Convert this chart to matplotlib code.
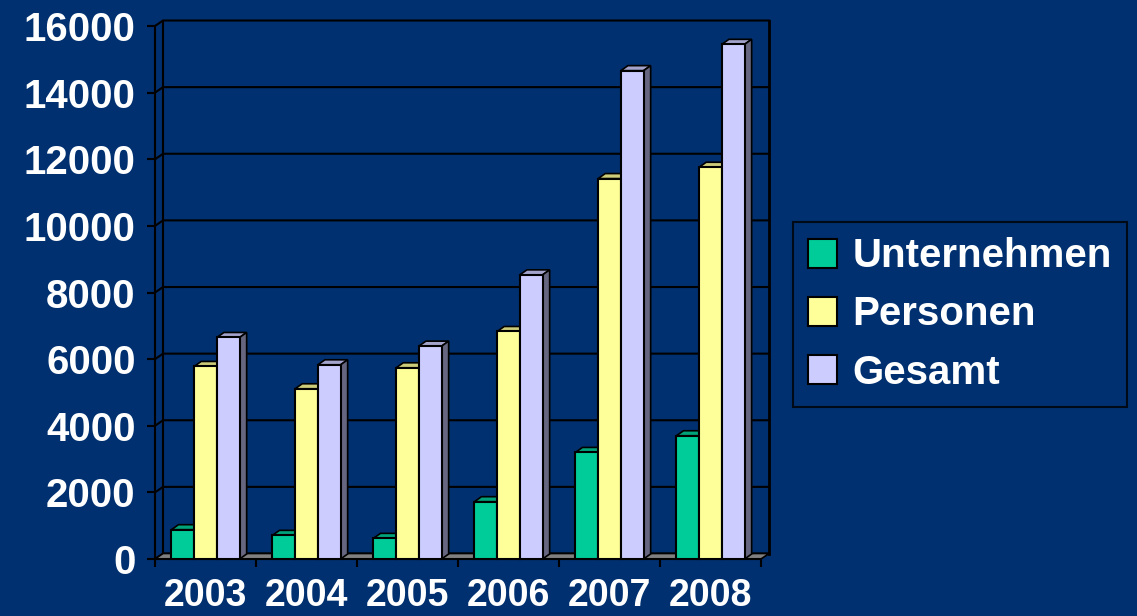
import matplotlib.pyplot as plt
from matplotlib.patches import Polygon
import numpy as np

years = ['2003', '2004', '2005', '2006', '2007', '2008']
unternehmen = [880, 710, 620, 1720, 3200, 3700]
personen = [5780, 5110, 5740, 6830, 11420, 11760]
gesamt = [6650, 5830, 6390, 8530, 14660, 15450]
series_names = ['Unternehmen', 'Personen', 'Gesamt']
y_ticks = [0, 2000, 4000, 6000, 8000, 10000, 12000, 14000, 16000]

BG = '#00306f'
front_cols = ['#00cc99', '#ffff99', '#ccccff']
top_cols = ['#00a37a', '#cccc7a', '#a3a3cc']
side_cols = ['#007a5c', '#99995c', '#666680']

plt.rcParams['font.family'] = ['Liberation Sans', 'DejaVu Sans']
plt.rcParams['font.weight'] = 'bold'

fig = plt.figure(figsize=(11.37, 6.16), dpi=100, facecolor=BG)
ax = fig.add_axes([155 / 1137, 57 / 616, 606 / 1137, 533 / 616])
ax.set_facecolor('none')
ax.set_xlim(-0.5, len(years) - 0.5)
ax.set_ylim(0, 16000)

# depth offsets for fake 3d look
dx_bar, dy_bar = 0.07, 150
dx_wall, dy_wall = 0.08, 165

# back wall + gridlines
x0, x1 = -0.5, len(years) - 0.5
for v in y_ticks:
    ax.plot([x0, x0 + dx_wall, x1 + dx_wall], [v, v + dy_wall, v + dy_wall],
            color='black', lw=1.5, zorder=0.5, clip_on=False)
ax.plot([x0 + dx_wall] * 2, [dy_wall, 16000 + dy_wall], color='black', lw=1.5,
        zorder=0.5, clip_on=False)
ax.plot([x1 + dx_wall] * 2, [dy_wall, 16000 + dy_wall], color='black', lw=2,
        zorder=0.5, clip_on=False)

# floor
ax.add_patch(Polygon([(x0, 0), (x1, 0), (x1 + dx_wall, dy_wall), (x0 + dx_wall, dy_wall)],
                     closed=True, facecolor='#808080', edgecolor='black', lw=1.2,
                     zorder=1, clip_on=False))

x = np.arange(len(years))
width = 0.225
data = [unternehmen, personen, gesamt]
for i, vals in enumerate(data):
    pos = x + (i - 1) * width
    ax.bar(pos, vals, width, color=front_cols[i], edgecolor='black', lw=1.5,
           zorder=3, label=series_names[i], clip_on=False)
    for p, h in zip(pos, vals):
        l, r = p - width / 2, p + width / 2
        ax.add_patch(Polygon([(l, h), (r, h), (r + dx_bar, h + dy_bar), (l + dx_bar, h + dy_bar)],
                             closed=True, facecolor=top_cols[i], edgecolor='black',
                             lw=1.2, zorder=2, clip_on=False))
        ax.add_patch(Polygon([(r, 0), (r, h), (r + dx_bar, h + dy_bar), (r + dx_bar, dy_bar)],
                             closed=True, facecolor=side_cols[i], edgecolor='black',
                             lw=1.2, zorder=2, clip_on=False))

for s in ['top', 'right']:
    ax.spines[s].set_visible(False)
for s in ['left', 'bottom']:
    ax.spines[s].set_color('black')
    ax.spines[s].set_linewidth(1.5)
    ax.spines[s].set_zorder(1.5)

ax.set_yticks(y_ticks)
ax.set_yticklabels([str(v) for v in y_ticks])
ax.tick_params(axis='y', colors='black', labelcolor='white', labelsize=29,
               length=6, width=1.5, pad=8)

ax.set_xticks(np.arange(len(years) + 1) - 0.5)
ax.set_xticklabels([])
ax.set_xticks(x, years, minor=True)
ax.tick_params(axis='x', which='major', colors='black', length=6, width=1.5)
ax.tick_params(axis='x', which='minor', length=0, labelcolor='white',
               labelsize=27, pad=14)

leg = fig.legend(loc='upper left', bbox_to_anchor=(793 / 1137, 1 - 222 / 616),
                 borderaxespad=0, frameon=True, fontsize=29, labelcolor='white',
                 handlelength=0.72, handleheight=0.72, handletextpad=0.37,
                 labelspacing=0.5, borderpad=0.38, fancybox=False)
leg.get_frame().set_facecolor(BG)
leg.get_frame().set_edgecolor('black')
leg.get_frame().set_linewidth(1.5)

fig.savefig('out.png', dpi=100, facecolor=BG)
